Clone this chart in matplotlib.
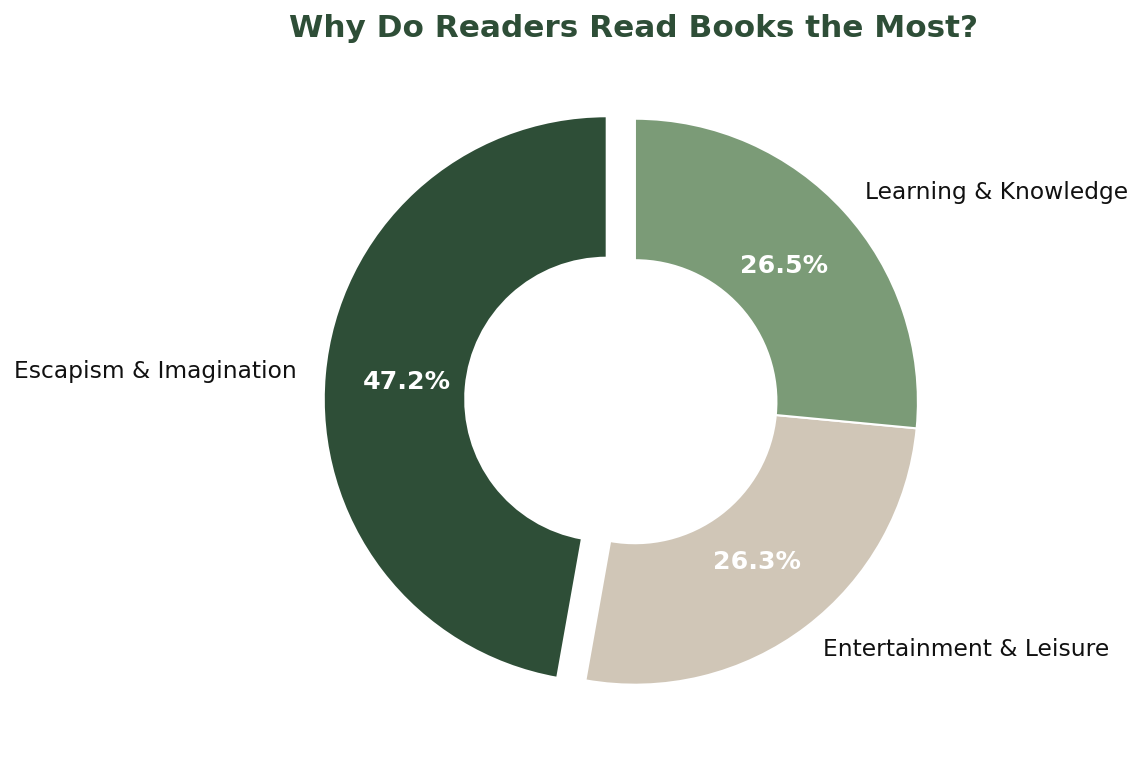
import matplotlib
matplotlib.use("Agg")
import matplotlib.pyplot as plt

# data
reasons = ['Escapism & Imagination', 'Entertainment & Leisure', 'Learning & Knowledge']
shares = [47.2, 26.3, 26.5]
colors = ['#2E4E37', '#D0C6B7', '#7B9B77']
explode = [0.1, 0, 0]

fig = plt.figure(figsize=(11.4, 7.7), dpi=100, facecolor='white')
ax = fig.add_axes([0.1846, 0.0005, 0.7447, 0.9556])

wedges, texts, autotexts = ax.pie(
    shares, labels=reasons, colors=colors, explode=explode,
    startangle=90, autopct='%1.1f%%', pctdistance=0.71, labeldistance=1.1,
    wedgeprops=dict(width=0.5, edgecolor='white', linewidth=1.5),
    textprops=dict(fontsize=16.8, color='#111111'))

for at in autotexts:
    at.set_color('white')
    at.set_fontsize(18.2)
    at.set_fontweight('bold')

ax.set_xlim(-1.5, 1.5)
ax.set_ylim(-1.3, 1.3)
ax.set_aspect('equal')
ax.axis('off')

fig.text(0.556, 0.9636, 'Why Do Readers Read Books the Most?', ha='center', va='center',
         fontsize=22.4, fontweight='bold', color='#2E4E37')

fig.savefig('out.png', dpi=100, facecolor='white')
